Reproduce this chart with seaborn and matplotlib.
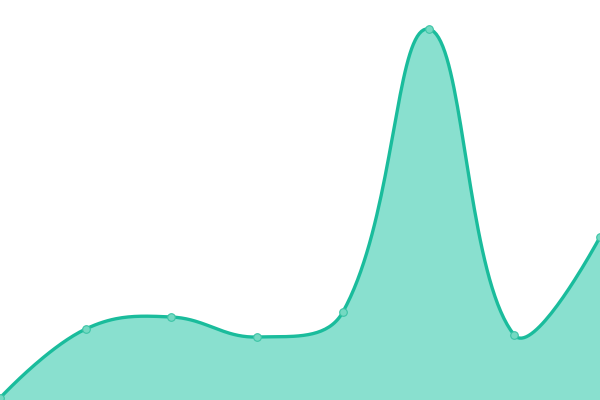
import numpy as np
import pandas as pd
import seaborn as sns
import matplotlib.pyplot as plt

steps = [0, 1, 2, 3, 4, 5, 6, 7]
values = [2, 71, 83, 63, 88, 371, 65, 163]

line_col = "#1abc9c"
fill_col = "#89e0cf"
dot_col = "#74d9c2"

W, H = 600, 400
x_px = np.array(steps) * W / (len(steps) - 1)
y_px = np.array(values, dtype=float)


def spline_path(xs, ys, tension=0.4, n=40):
    # cardinal spline like chart.js (control points from neighbour distances)
    pts = np.column_stack([xs, ys])
    k = len(pts)
    cin, cout = pts.copy(), pts.copy()
    for i in range(1, k - 1):
        p0, p1, p2 = pts[i - 1], pts[i], pts[i + 1]
        d01 = np.hypot(*(p1 - p0))
        d12 = np.hypot(*(p2 - p1))
        s01 = d01 / (d01 + d12)
        s12 = d12 / (d01 + d12)
        cin[i] = p1 - tension * s01 * (p2 - p0)
        cout[i] = p1 + tension * s12 * (p2 - p0)
    t = np.linspace(0, 1, n)[:, None]
    seg = []
    for i in range(k - 1):
        a, b, c, d = pts[i], cout[i], cin[i + 1], pts[i + 1]
        seg.append((1 - t) ** 3 * a + 3 * (1 - t) ** 2 * t * b + 3 * (1 - t) * t ** 2 * c + t ** 3 * d)
    out = np.vstack(seg)
    return out[:, 0], out[:, 1]


cx, cy = spline_path(x_px, y_px)
curve = pd.DataFrame({"x": cx, "y": cy})
pts = pd.DataFrame({"x": x_px, "y": y_px})

sns.set_style("white")
fig = plt.figure(figsize=(6, 4), dpi=100)
ax = fig.add_axes([0, 0, 1, 1])

ax.fill_between(cx, cy, 0, color=fill_col, lw=0)
sns.lineplot(data=curve, x="x", y="y", ax=ax, color=line_col, lw=2.4, sort=False)
sns.scatterplot(data=pts, x="x", y="y", ax=ax, s=30, color=dot_col,
                edgecolor="#3cc4a6", linewidth=0.8, zorder=5, clip_on=True)

ax.set_xlim(0, W)
ax.set_ylim(0, H)
ax.axis("off")

fig.savefig("out.png", dpi=100)
